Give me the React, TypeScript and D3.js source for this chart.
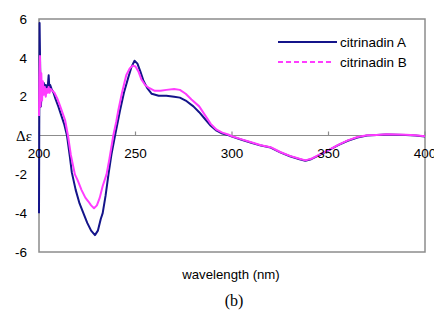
import React from 'react';
import * as d3 from 'd3';

// citrinadin A (blue) – wavelength (nm) / Δε
const wlA = [200, 200.3, 200.6, 201, 201.5, 202, 202.5, 203, 203.5, 204, 204.5, 205, 205.4, 205.8, 206.5, 207.5, 208.5, 210, 211.5, 213, 214.5, 216, 217, 219, 221, 223, 225, 227, 229, 230.5, 232, 233, 234.5, 236, 237.5, 239.4, 241, 242, 244, 246.3, 248, 249.5, 251, 252.5, 254, 256, 258.4, 262, 266, 270, 273, 276, 280, 283, 286, 289, 292, 295, 298, 300, 305, 310, 315, 320, 325, 330, 335, 338, 341, 345, 350, 355, 360, 365, 370, 375, 380, 385, 390, 395, 400];
const valA = [-4, 5.8, 3.5, 1.5, 2.6, 2.2, 2.7, 2.4, 2.6, 2.3, 2.5, 3.1, 2.4, 2.6, 2.4, 2.2, 1.9, 1.5, 1.05, 0.6, 0, -1.1, -1.9, -2.8, -3.5, -4.0, -4.5, -4.9, -5.13, -4.9, -4.3, -4.0, -3.1, -2.0, -1.0, 0, 0.8, 1.3, 2.2, 3.0, 3.55, 3.85, 3.7, 3.3, 2.85, 2.45, 2.15, 2.05, 2.05, 2.0, 1.95, 1.8, 1.5, 1.2, 0.85, 0.5, 0.25, 0.1, 0.02, -0.06, -0.22, -0.37, -0.52, -0.62, -0.87, -1.07, -1.22, -1.3, -1.22, -1.02, -0.77, -0.5, -0.27, -0.1, 0, 0.02, 0.05, 0.04, 0.03, 0, -0.05];

// citrinadin B (magenta)
const wlB = [200, 200.2, 200.5, 200.8, 201.2, 201.6, 202, 202.5, 203, 203.5, 204, 204.5, 205, 205.5, 206, 207, 208, 209.5, 211, 213.5, 215, 216.5, 218.6, 220, 222, 224, 225.6, 227, 228.5, 230, 231.5, 233, 235, 236.5, 238.5, 240, 241.1, 243, 245.2, 247, 248.5, 250, 251.5, 253, 255, 257, 260, 263, 266, 270, 273, 276, 279, 283, 286, 289, 292, 295, 298, 300, 305, 310, 315, 320, 325, 330, 335, 338, 341, 345, 350, 355, 360, 365, 370, 375, 380, 385, 390, 395, 400];
const valB = [1.0, 3.0, 4.1, 1.5, 3.2, 1.8, 2.8, 2.1, 2.5, 2.0, 2.4, 2.2, 2.5, 2.2, 2.4, 2.3, 2.2, 1.9, 1.5, 0.8, 0, -1.0, -2.0, -2.3, -2.8, -3.2, -3.4, -3.6, -3.75, -3.6, -3.2, -2.6, -2.0, -1.2, 0, 0.7, 1.3, 2.2, 3.1, 3.45, 3.6, 3.55, 3.3, 2.9, 2.6, 2.45, 2.3, 2.3, 2.35, 2.4, 2.35, 2.15, 1.85, 1.5, 1.05, 0.6, 0.3, 0.15, 0.05, -0.04, -0.2, -0.35, -0.5, -0.6, -0.85, -1.05, -1.2, -1.28, -1.2, -1.0, -0.75, -0.48, -0.25, -0.08, 0.01, 0.03, 0.06, 0.05, 0.04, 0.01, -0.04];

const xTicks = [200, 250, 300, 350, 400];
const yTicks = [6, 4, 2, 0, -2, -4, -6];

const W = 434;
const H = 320;
const left = 39, right = 425, top = 19, bottom = 252;

export default function App() {
  const x = d3.scaleLinear().domain([200, 400]).range([left, right]);
  const y = d3.scaleLinear().domain([-6, 6]).range([bottom, top]);

  const line = d3.line<[number, number]>().x(d => x(d[0])).y(d => y(d[1]));
  const pathA = line(wlA.map((w, i) => [w, valA[i]] as [number, number])) || '';
  const pathB = line(wlB.map((w, i) => [w, valB[i]] as [number, number])) || '';

  const sans = '"Liberation Sans", Arial, sans-serif';
  const serif = '"Liberation Serif", "Times New Roman", serif';

  return (
    <svg width={W} height={H} style={{ position: 'absolute', left: 0, top: 0, background: '#fff' }}>
      {/* plot frame */}
      <rect x={left} y={top} width={right - left} height={bottom - top} fill="none" stroke="#8c8c8c" strokeWidth={1.5} />
      {/* zero line with ticks */}
      <line x1={left} x2={right} y1={y(0)} y2={y(0)} stroke="#8c8c8c" strokeWidth={1.2} />
      {xTicks.map(t => (
        <line key={t} x1={x(t)} x2={x(t)} y1={y(0)} y2={y(0) - 4} stroke="#8c8c8c" strokeWidth={1.2} />
      ))}

      <path d={pathA} fill="none" stroke="#14148a" strokeWidth={2} strokeLinejoin="round" />
      <path d={pathB} fill="none" stroke="#ff3cff" strokeWidth={2} strokeLinejoin="round" />

      {/* y tick labels */}
      {yTicks.map(t => t === 0 ? (
        <text key={t} x={32} y={y(0)} dy="0.35em" textAnchor="end" fontFamily={serif} fontSize={15} fill="#000">Δε</text>
      ) : (
        <text key={t} x={27} y={y(t)} dy="0.35em" textAnchor="end" fontFamily={sans} fontSize={13.5} fill="#000">{t < 0 ? `-${-t}` : t}</text>
      ))}

      {/* x tick labels */}
      {xTicks.map(t => (
        <text key={t} x={x(t)} y={y(0) + 18} dy="0.35em" textAnchor="middle" fontFamily={sans} fontSize={13.5} fill="#000">{t}</text>
      ))}

      {/* legend */}
      <line x1={278} x2={337} y1={42} y2={42} stroke="#14148a" strokeWidth={2} />
      <text x={340} y={42} dy="0.35em" fontFamily={sans} fontSize={13.5} fill="#000">citrinadin A</text>
      <line x1={278} x2={334} y1={62} y2={62} stroke="#ff3cff" strokeWidth={2} strokeDasharray="5,3" />
      <text x={340} y={62} dy="0.35em" fontFamily={sans} fontSize={13.5} fill="#000">citrinadin B</text>

      <text x={231} y={274} dy="0.35em" textAnchor="middle" fontFamily={sans} fontSize={13.2} fill="#000">wavelength (nm)</text>
      <text x={234} y={300} dy="0.35em" textAnchor="middle" fontFamily={serif} fontSize={16} fill="#000">(b)</text>
    </svg>
  );
}
